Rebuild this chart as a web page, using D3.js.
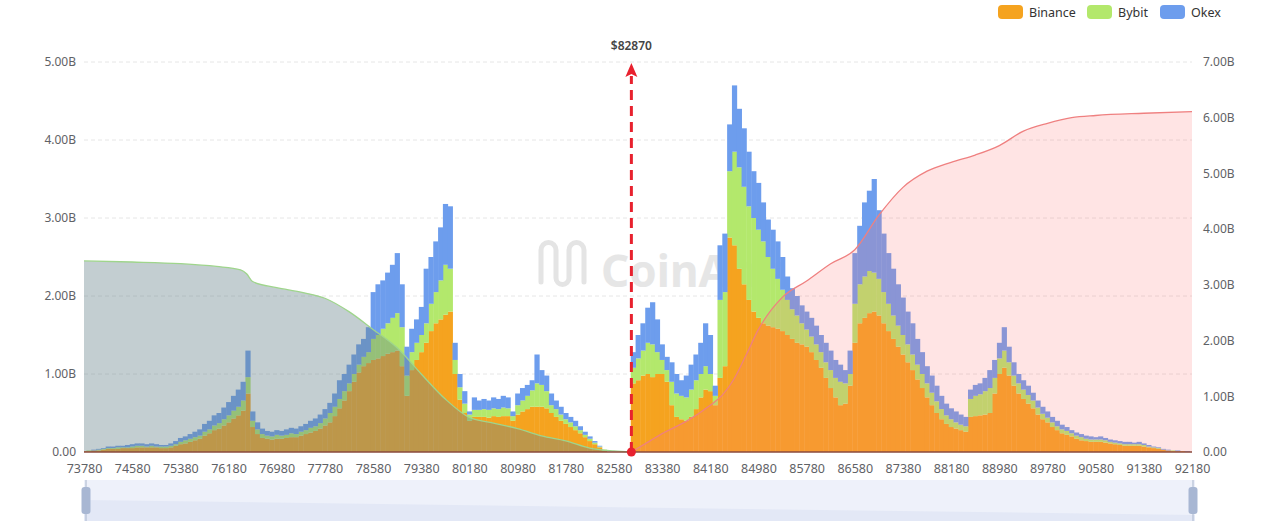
<!DOCTYPE html>
<html><head><meta charset="utf-8">
<script src="https://cdn.jsdelivr.net/npm/d3@7"></script>
<style>
body{margin:0;background:#fff;}
svg{display:block;font-family:"Noto Sans","Open Sans",Arial,sans-serif;}
</style>
</head><body>
<svg id="c" width="1280" height="526"></svg>
<script>
// ---------- DATA (values in hundredths of a billion USD) ----------
const priceStart = 73780;
const priceStep = 80;
const xTickLabels = [73780,74580,75380,76180,76980,77780,78580,79380,80180,80980,81780,82580,83380,84180,84980,85780,86580,87380,88180,88980,89780,90580,91380,92180];
const leftTicks = [0,1,2,3,4,5];
const rightTicks = [0,1,2,3,4,5,6,7];
const seriesNames = ["Binance","Bybit","Okex"];
const currentPrice = 82870;

const binance = [
1,1,2,2,3,4,4,4,5,5,
5,6,6,6,6,6,5,5,6,8,
10,11,13,15,17,21,24,28,30,34,
38,43,47,53,75,32,23,18,17,16,
17,17,18,19,19,21,23,25,27,30,
34,38,46,56,66,78,90,102,110,114,
118,120,123,126,128,130,110,72,105,118,
128,140,155,165,170,176,180,100,67,50,
40,45,45,45,44,46,45,46,46,40,
48,52,55,58,58,58,56,50,45,40,
36,32,28,24,19,14,10,6,2,0,
0,0,0,0,88,92,98,100,96,100,
100,90,60,45,42,40,45,55,70,80,
78,60,95,110,275,265,235,215,195,180,
172,165,162,160,158,155,150,145,140,138,
135,128,118,108,95,82,70,60,62,85,
140,165,172,178,180,175,165,155,145,135,
125,115,105,93,82,70,60,50,42,36,
32,30,28,26,45,46,47,48,50,75,
100,108,98,85,75,68,62,56,48,42,
38,32,28,24,22,20,17,15,14,13,
13,13,12,11,10,9,8,8,8,8,
7,6,5,4,3,2,1,1,1,0,
0];
const bybit = [
0,1,0,1,1,1,1,2,1,1,
2,2,2,1,2,1,2,2,2,2,
3,4,4,4,4,5,5,6,7,8,
9,10,11,13,21,8,6,5,4,4,
5,4,4,5,4,5,5,6,6,7,
9,12,12,12,12,10,10,10,12,14,
27,30,35,39,44,48,50,26,23,22,
22,25,35,40,50,64,55,18,16,12,
8,9,9,10,10,10,10,11,10,6,
12,14,17,21,30,28,22,10,10,8,
6,6,5,4,3,3,2,1,1,0,
0,0,0,0,20,28,32,40,42,28,
18,15,30,30,30,30,35,37,30,30,
22,12,100,95,85,120,130,125,120,120,
113,105,88,75,64,53,45,38,35,27,
22,20,20,20,20,23,25,30,26,15,
50,50,53,54,50,47,40,35,30,27,
25,23,20,19,18,18,16,15,13,11,
10,8,7,7,23,26,27,30,32,20,
20,22,17,13,13,12,11,10,9,7,
6,6,5,5,5,4,4,4,3,3,
3,3,3,2,2,2,2,2,2,2,
2,1,1,1,0,0,1,0,0,0,
0];
const okex = [
0,0,1,1,1,2,2,2,2,3,
3,3,3,3,3,3,2,2,3,4,
5,5,6,7,8,10,11,13,13,15,
17,19,22,24,34,12,9,7,6,6,
6,6,7,7,7,7,8,9,10,11,
12,13,17,24,22,24,25,26,23,32,
60,65,62,65,68,77,55,37,30,30,
36,70,60,65,68,78,80,22,17,16,
4,16,12,13,12,14,13,15,14,6,
15,16,14,13,37,19,20,15,11,10,
8,7,7,5,4,3,2,1,0,0,
0,0,0,0,20,30,35,45,54,42,
20,17,25,25,20,28,32,33,40,55,
50,13,70,75,60,85,75,75,70,60,
60,50,48,50,48,42,30,27,25,23,
23,24,24,22,25,25,23,22,17,30,
65,75,95,103,120,88,75,65,60,53,
48,42,40,33,28,22,22,20,17,15,
14,14,13,12,12,14,14,17,23,23,
20,30,20,17,12,12,12,10,9,9,
8,7,7,6,5,4,4,4,4,4,
3,4,3,3,3,3,3,3,2,3,
2,2,1,1,1,1,0,1,0,1,
0];

// cumulative long liquidation (left of price), billions, right axis
const longCumPrice = [73780,74580,75380,75980,76380,76480,76580,76980,77380,77780,78180,78580,78980,79380,79780,80180,80580,80980,81380,81780,82180,82580,82870];
const longCumValue = [3.43,3.41,3.38,3.33,3.27,3.2,3.06,2.95,2.87,2.76,2.52,2.2,1.87,1.4,0.95,0.62,0.52,0.42,0.29,0.2,0.07,0.02,0];
// cumulative short liquidation (right of price), billions, right axis
const shortCumPrice = [82870,83180,83380,83780,84180,84380,84580,84780,84980,85380,85780,86180,86580,86980,87380,87780,88180,88580,88980,89380,89780,90180,90580,91380,92180];
const shortCumValue = [0,0.2,0.33,0.55,0.84,1.02,1.32,1.75,2.2,2.78,3.07,3.38,3.63,4.25,4.75,5.04,5.2,5.33,5.5,5.76,5.9,6.0,6.04,6.08,6.11];

// ---------- CHART ----------
const svg = d3.select("#c");
const L = 84, R = 1192, T = 62, B = 452;
const x = d3.scaleLinear().domain([xTickLabels[0], xTickLabels[xTickLabels.length-1]]).range([L, R]);
const yL = d3.scaleLinear().domain([0, 5]).range([B, T]);
const yR = d3.scaleLinear().domain([0, 7]).range([B, T]);
const color = d3.scaleOrdinal().domain(seriesNames).range(["#f5a31f","#b3e86c","#6d9ded"]);

// gridlines
svg.append("g").selectAll("line").data(leftTicks.slice(1)).join("line")
  .attr("x1", L).attr("x2", R).attr("y1", d=>yL(d)).attr("y2", d=>yL(d))
  .attr("stroke", "#e6e6e6").attr("stroke-dasharray", "4,3");

// watermark
const wm = svg.append("g").attr("fill","none").attr("stroke","#e4e4e4").attr("stroke-width",5).attr("stroke-linecap","round");
wm.append("path").attr("d","M541,282 V250 A7.5,7.5 0 0 1 556,250 V278 A6.5,6.5 0 0 0 569,278 V250 A7.5,7.5 0 0 1 584,250 V282");
svg.append("text").attr("x",601).attr("y",287).attr("font-size",44).attr("font-weight",700)
  .attr("fill","#e6e6e6").text("CoinAnk");

// bars
const defs = svg.append("defs");
defs.append("clipPath").attr("id","plot").append("rect").attr("x",L).attr("y",0).attr("width",R-L).attr("height",B);
const n = binance.length;
const rows = d3.range(n).map(i => ({price: priceStart + i*priceStep, Binance: binance[i]/100, Bybit: bybit[i]/100, Okex: okex[i]/100}));
const stacked = d3.stack().keys(seriesNames)(rows);
const bw = x(priceStart + priceStep) - x(priceStart);
const barG = svg.append("g").attr("clip-path","url(#plot)");
barG.selectAll("g").data(stacked).join("g").attr("fill", d => color(d.key))
  .selectAll("rect").data(d => d).join("rect")
  .attr("x", d => x(d.data.price) - bw/2).attr("width", bw + 0.4)
  .attr("y", d => yL(d[1])).attr("height", d => Math.max(0, yL(d[0]) - yL(d[1])));

// cumulative areas
const longData = longCumPrice.map((p,i)=>({p, v: longCumValue[i]}));
const shortData = shortCumPrice.map((p,i)=>({p, v: shortCumValue[i]}));
const area = d3.area().x(d=>x(d.p)).y0(yR(0)).y1(d=>yR(d.v)).curve(d3.curveMonotoneX);
const line = d3.line().x(d=>x(d.p)).y(d=>yR(d.v)).curve(d3.curveMonotoneX);
svg.append("path").datum(longData).attr("d", area).attr("fill","rgba(105,132,140,0.4)");
svg.append("path").datum(longData).attr("d", line).attr("fill","none").attr("stroke","#9fd58c").attr("stroke-width",1.3);
svg.append("path").datum(shortData).attr("d", area).attr("fill","rgba(255,120,120,0.2)");
svg.append("path").datum(shortData).attr("d", line).attr("fill","none").attr("stroke","#ef8080").attr("stroke-width",1.3);

// baseline
svg.append("line").attr("x1",L).attr("x2",R).attr("y1",B).attr("y2",B).attr("stroke","#8a4a3c").attr("stroke-width",1.6);

// axes
const fmt = v => v === 0 ? "0.00" : v.toFixed(2) + "B";
const ax = svg.append("g").attr("transform",`translate(0,${B})`)
  .call(d3.axisBottom(x).tickValues(xTickLabels).tickSize(0).tickPadding(12).tickFormat(d=>d));
const ayl = svg.append("g").attr("transform",`translate(${L},0)`)
  .call(d3.axisLeft(yL).tickValues(leftTicks).tickSize(0).tickPadding(8).tickFormat(fmt));
const ayr = svg.append("g").attr("transform",`translate(${R},0)`)
  .call(d3.axisRight(yR).tickValues(rightTicks).tickSize(0).tickPadding(11).tickFormat(fmt));
[ax, ayl, ayr].forEach(g => { g.select(".domain").remove(); g.selectAll("text").attr("fill","#5f6266").attr("font-family",'"Noto Sans","Open Sans",Arial,sans-serif'); });
ax.selectAll("text").attr("font-size",12.5);
ayl.selectAll("text").attr("font-size",12);
ayr.selectAll("text").attr("font-size",12);

// current price marker
const cx = x(currentPrice);
svg.append("line").attr("x1",cx).attr("x2",cx).attr("y1",B).attr("y2",T+14)
  .attr("stroke","#e8212e").attr("stroke-width",3).attr("stroke-dasharray","10,6");
svg.append("path").attr("d",`M${cx},${T+1} L${cx+6},${T+15} L${cx},${T+12} L${cx-6},${T+15} Z`).attr("fill","#e8212e");
svg.append("circle").attr("cx",cx).attr("cy",B).attr("r",4.5).attr("fill","#e8212e");
svg.append("text").attr("x",cx).attr("y",50).attr("text-anchor","middle").attr("font-size",12).attr("font-weight",600)
  .attr("fill","#444").text("$" + currentPrice);

// legend
const lg = svg.append("g");
const legendPos = [998, 1087, 1160];
seriesNames.forEach((k,i)=>{
  lg.append("rect").attr("x",legendPos[i]).attr("y",5).attr("width",25).attr("height",14).attr("rx",4).attr("fill",color(k));
  lg.append("text").attr("x",legendPos[i]+31).attr("y",16.5).attr("font-size",12.5).attr("fill","#333").text(k);
});

// data zoom slider
const sz = svg.append("g");
sz.append("rect").attr("x",L).attr("y",480).attr("width",R-L+3).attr("height",41).attr("fill","#eef1fa");
sz.append("path").attr("d",`M${L},500 L${R+3},515 L${R+3},521 L${L},521 Z`).attr("fill","#e3e8f6");
[L+2, R+1].forEach(hx=>{
  sz.append("line").attr("x1",hx).attr("x2",hx).attr("y1",480).attr("y2",521).attr("stroke","#a9b6cc").attr("stroke-width",1);
  sz.append("rect").attr("x",hx-4.5).attr("y",487).attr("width",9).attr("height",27).attr("rx",3).attr("fill","#a8b7d3");
});
</script>
</body></html>
